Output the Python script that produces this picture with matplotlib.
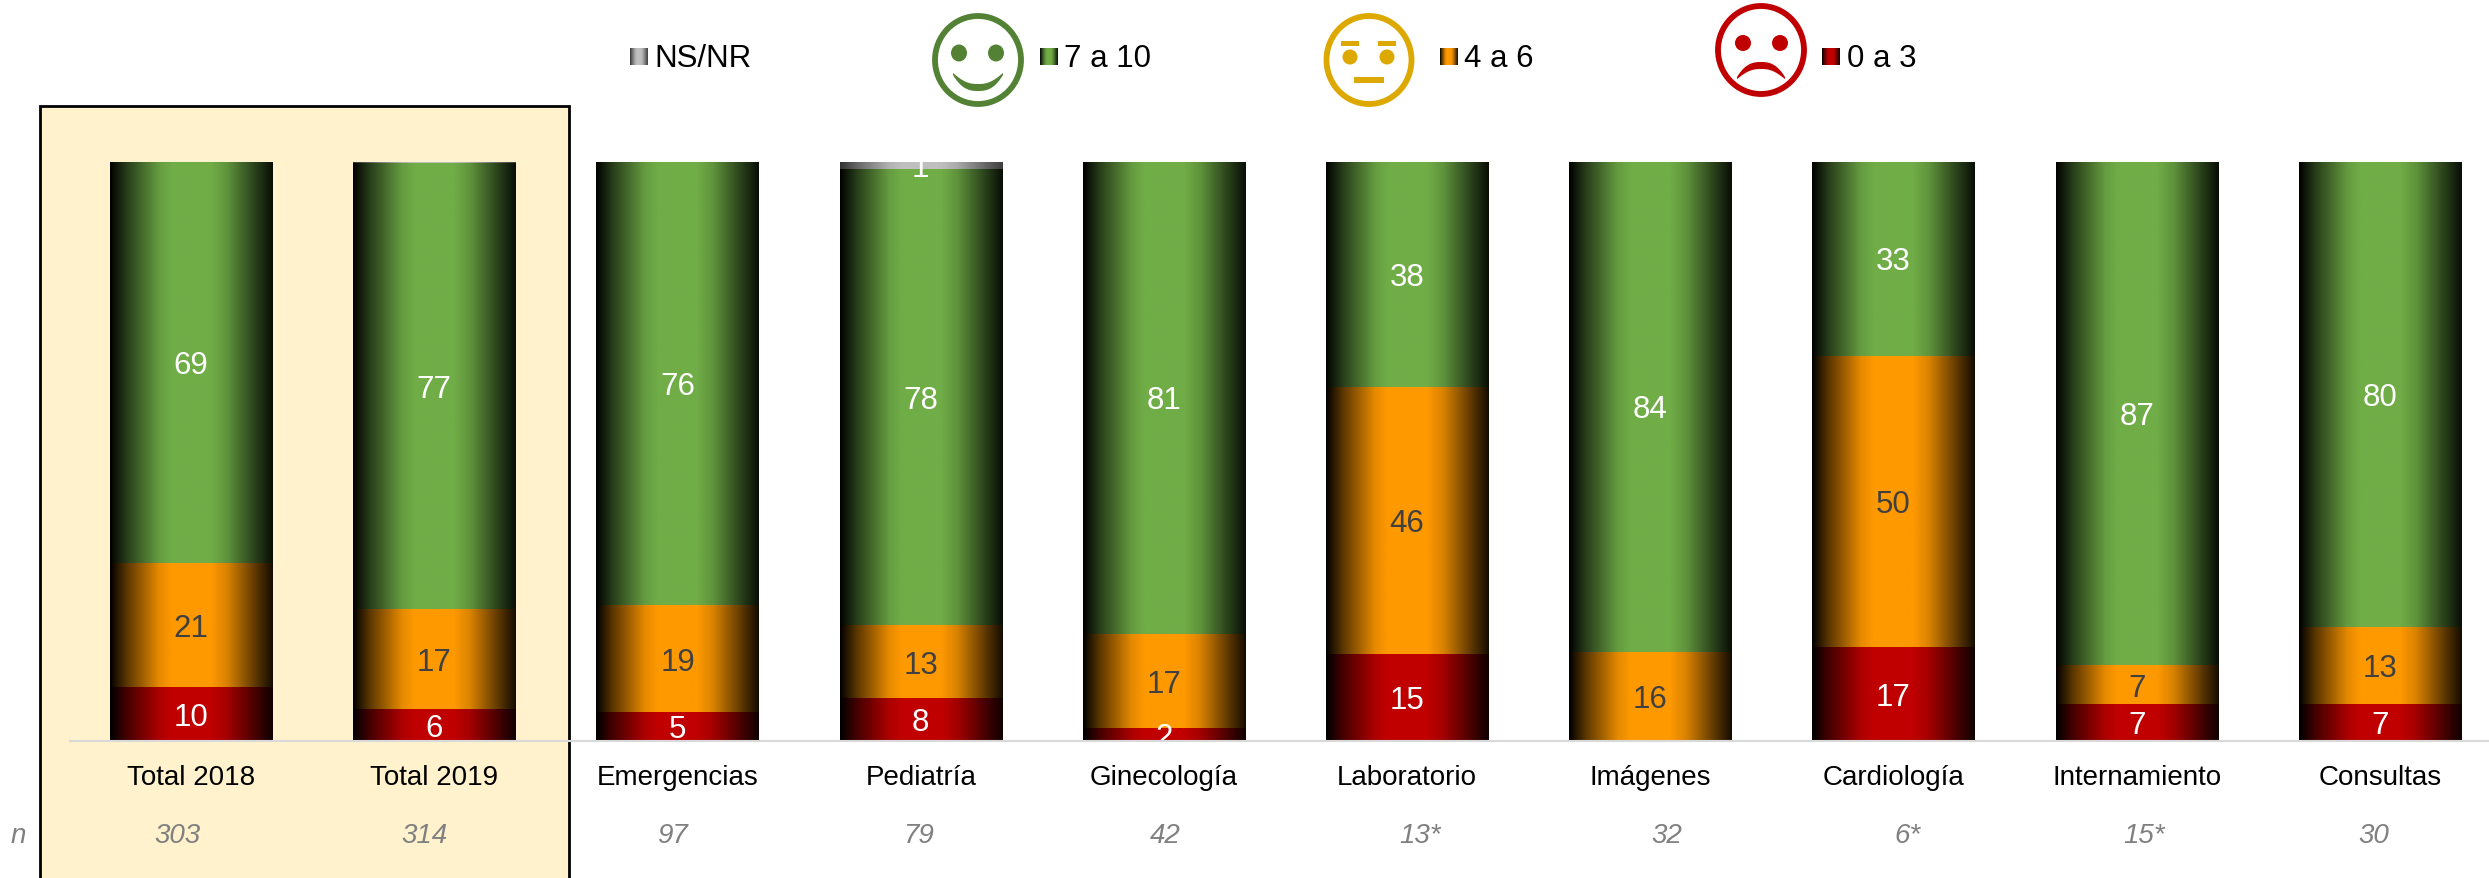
"""Satisfaction score by service: stacked gradient bars with smiley legend."""
import matplotlib
matplotlib.use("Agg")
import matplotlib.pyplot as plt
import numpy as np
from matplotlib.colors import LinearSegmentedColormap, to_rgb
from matplotlib.patches import Ellipse, Polygon, Rectangle

W, H = 2489, 879

categories = ["Total 2018", "Total 2019", "Emergencias", "Pediatría", "Ginecología",
              "Laboratorio", "Imágenes", "Cardiología", "Internamiento", "Consultas"]
low = [9.3, 5.5, 4.9, 7.4, 2.2, 15.0, 0, 16.2, 6.3, 6.3]
mid = [21.3, 17.2, 18.5, 12.5, 16.3, 46.1, 15.4, 50.3, 6.7, 13.4]
high = [69.4, 77.0, 76.6, 78.8, 81.5, 38.9, 84.6, 33.5, 87.0, 80.3]
nsnr = [0, 0.3, 0, 1.3, 0, 0, 0, 0, 0, 0]
low_labels = ["10", "6", "5", "8", "2", "15", "", "17", "7", "7"]
mid_labels = ["21", "17", "19", "13", "17", "46", "16", "50", "7", "13"]
high_labels = ["69", "77", "76", "78", "81", "38", "84", "33", "87", "80"]
nsnr_labels = ["", "", "", "1", "", "", "", "", "", ""]
n_labels = ["303", "314", "97", "79", "42", "13*", "32", "6*", "15*", "30"]
n_pos_px = [177, 424, 672, 919, 1165, 1420, 1667, 1907, 2144, 2374]

GREEN, ORANGE, RED, GREY = "#70AD47", "#FF9900", "#C00000", "#BFBFBF"
FACE_GREEN, FACE_GOLD, FACE_RED = "#548235", "#DDA800", "#C00000"

plt.rcParams["font.family"] = ["Liberation Sans", "DejaVu Sans"]


def gradient_cmap(color, edge="black"):
    c = np.array(to_rgb(color))
    e = np.array(to_rgb(edge))
    mix = lambda f: tuple(e + (c - e) * f)
    stops = [(0, mix(0.0)), (0.1, mix(0.35)), (0.3, mix(0.9)), (0.38, mix(1)),
             (0.62, mix(1)), (0.72, mix(0.85)), (0.9, mix(0.35)), (1, mix(0.08))]
    return LinearSegmentedColormap.from_list("bar", stops)


def fill_gradient(ax, x0, x1, y0, y1, cmap):
    ramp = np.linspace(0, 1, 256).reshape(1, -1)
    ax.imshow(ramp, cmap=cmap, extent=(x0, x1, y0, y1), aspect="auto",
              interpolation="bilinear", zorder=2)


def crescent(cx, top, bottom, half_w, thick, flip=False):
    # mouth shape in pixel coords, thick in the middle and narrowing to the ends
    t = np.linspace(-1, 1, 40)
    curve = np.abs(t) ** 2.6
    taper = 1 - 0.7 * t ** 4
    outer = bottom - (bottom - top) * curve
    inner = outer - thick * taper
    if flip:
        outer = top + (bottom - top) * curve
        inner = outer + thick * taper
    xs = cx + half_w * t
    return np.column_stack([np.r_[xs, xs[::-1]], np.r_[outer, inner[::-1]]])


def draw_faces(bg):
    ring = dict(fill=False, lw=4.2)
    # happy
    bg.add_patch(Ellipse((978, 61), 86, 88, ec=FACE_GREEN, **ring))
    for x in (959, 996):
        bg.add_patch(Ellipse((x, 54), 16, 17, fc=FACE_GREEN, lw=0))
    bg.add_patch(Polygon(crescent(978, 76, 92, 25, 7), fc=FACE_GREEN, lw=0))
    # neutral
    bg.add_patch(Ellipse((1369, 61), 85, 88, ec=FACE_GOLD, **ring))
    for x in (1350, 1387):
        bg.add_patch(Rectangle((x - 9, 42), 18, 5, fc=FACE_GOLD, lw=0))
        bg.add_patch(Ellipse((x, 58), 15, 15, fc=FACE_GOLD, lw=0))
    bg.add_patch(Rectangle((1354, 78), 30, 6, fc=FACE_GOLD, lw=0))
    # sad
    bg.add_patch(Ellipse((1761, 51), 86, 88, ec=FACE_RED, **ring))
    for x in (1743, 1780):
        bg.add_patch(Ellipse((x, 44), 16, 16, fc=FACE_RED, lw=0))
    bg.add_patch(Polygon(crescent(1761, 63, 78, 24, 7, flip=True), fc=FACE_RED, lw=0))


def draw_legend(bg):
    items = [("NS/NR", GREY, 630, 654, "#333333"), ("7 a 10", GREEN, 1040, 1064, "black"),
             ("4 a 6", ORANGE, 1440, 1464, "black"), ("0 a 3", RED, 1822, 1847, "black")]
    for text, color, swatch_x, text_x, edge in items:
        # y axis runs downwards here, so pass the swatch extent bottom first
        fill_gradient(bg, swatch_x, swatch_x + 18, 66, 49, gradient_cmap(color, edge))
        bg.text(text_x, 59, text, fontsize=22.5, va="center", ha="left", color="black")


def main():
    fig = plt.figure(figsize=(W / 100, H / 100), dpi=100)

    # pixel-space layer for the highlight box, legend and n row
    bg = fig.add_axes([0, 0, 1, 1], zorder=0)
    bg.add_patch(Rectangle((40, 107), 529, 790, fc="#FFF2CC", ec="black", lw=2))
    draw_faces(bg)
    draw_legend(bg)
    bg.text(18, 836, "n", fontsize=20, style="italic", color="#808080", ha="center", va="center")
    for x, label in zip(n_pos_px, n_labels):
        bg.text(x, 836, label, fontsize=20, style="italic", color="#808080", ha="center", va="center")
    bg.set_xlim(0, W)
    bg.set_ylim(H, 0)
    bg.axis("off")

    # bar chart, one category step is 243.2 px
    ax = fig.add_axes([69.6 / W, (H - 741.7) / H, (W - 69.6) / W, 579.2 / H], zorder=1)
    ax.patch.set_alpha(0)
    x = np.arange(len(categories))
    bottom = np.zeros(len(categories))
    series = [(low, low_labels, RED, "white", "black"),
              (mid, mid_labels, ORANGE, "#404040", "black"),
              (high, high_labels, GREEN, "white", "black"),
              (nsnr, nsnr_labels, GREY, "white", "#333333")]
    for values, labels, color, text_color, edge in series:
        cmap = gradient_cmap(color, edge)
        bars = ax.bar(x, values, 0.667, bottom=bottom, color="none")
        for bar, value, label in zip(bars, values, labels):
            if value == 0:
                continue
            fill_gradient(ax, bar.get_x(), bar.get_x() + bar.get_width(),
                          bar.get_y(), bar.get_y() + bar.get_height(), cmap)
            if label:
                ax.text(bar.get_x() + bar.get_width() / 2, bar.get_y() + value / 2 - 0.5,
                        label, ha="center", va="center", fontsize=22.5,
                        color=text_color, zorder=3, clip_on=True)
        bottom += np.array(values)

    ax.set_xlim(-0.5, (W - 191) / 243.2)
    ax.set_ylim(0, 100)
    ax.set_yticks([])
    ax.set_xticks(x, categories, fontsize=20, color="black")
    ax.tick_params(axis="x", length=0, pad=17)
    for side in ("top", "left", "right"):
        ax.spines[side].set_visible(False)
    ax.spines["bottom"].set_color("#D9D9D9")
    ax.spines["bottom"].set_linewidth(1.5)
    ax.spines["bottom"].set_zorder(4)

    fig.savefig("out.png", dpi=100)
    plt.close(fig)


if __name__ == "__main__":
    main()
